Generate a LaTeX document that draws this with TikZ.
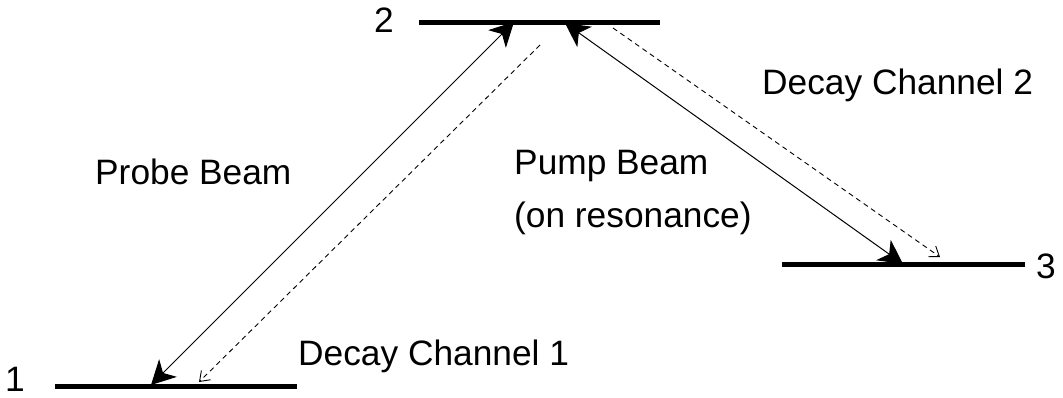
\documentclass[tikz,border=0pt]{standalone}
\usepackage{fontspec}
\setmainfont{Liberation Sans}
\usetikzlibrary{arrows.meta}
\begin{document}
\begin{tikzpicture}[x=1pt,y=-1pt,
  level/.style={line width=5pt},
  beam/.style={line width=1pt,{Stealth[length=24pt,width=25pt,inset=7pt]}-{Stealth[length=24pt,width=25pt,inset=7pt]}},
  decay/.style={line width=0.9pt,dash pattern=on 5pt off 4pt,-{Straight Barb[length=9pt,width=13pt]}},
  lbl/.style={font=\fontsize{35.3}{53}\selectfont,inner sep=0pt,anchor=base west}]
\useasboundingbox (0,0) rectangle (1063,398);
% level end points
\coordinate (l1a) at (55,386);  \coordinate (l1b) at (297,386);
\coordinate (l2a) at (419,23);  \coordinate (l2b) at (660,23);
\coordinate (l3a) at (782,264); \coordinate (l3b) at (1025,264);
\draw[level] (l1a) -- (l1b);
\draw[level] (l2a) -- (l2b);
\draw[level] (l3a) -- (l3b);
% arrow end points
\coordinate (pr1) at (151,385); \coordinate (pr2) at (514,22);
\coordinate (d1a) at (540,45);  \coordinate (d1b) at (199,382);
\coordinate (pu2) at (565,23);  \coordinate (pu3) at (903,264);
\coordinate (d2a) at (613,28);  \coordinate (d2b) at (940,257);
\draw[beam] (pr1) -- (pr2);
\draw[beam] (pu2) -- (pu3);
\draw[decay] (d1a) -- (d1b);
\draw[decay] (d2a) -- (d2b);
% labels
\node[lbl] (n2) at (374,33) {2};
\node[lbl] (n1) at (5,391) {1};
\node[lbl] (n3) at (1036,279) {3};
\node[lbl] (probe) at (95,185) {Probe Beam};
\node[lbl,align=left,anchor=north west] (pump) at (514,150) {Pump Beam\\(on resonance)};
\node[lbl] (dc1) at (298,365) {Decay Channel 1};
\node[lbl] (dc2) at (762,95) {Decay Channel 2};
\end{tikzpicture}
\end{document}
